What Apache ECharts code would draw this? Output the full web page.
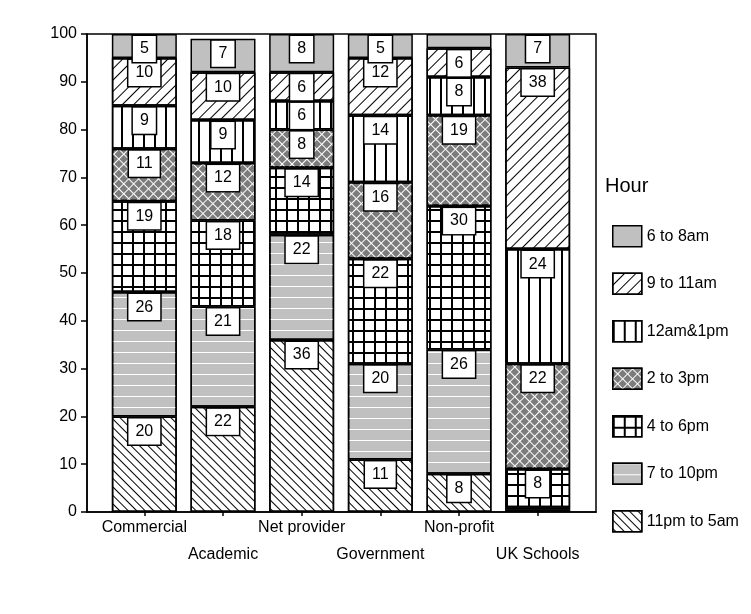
<!DOCTYPE html>
<html>
<head>
<meta charset="utf-8">
<script src="https://cdn.jsdelivr.net/npm/echarts@6/dist/echarts.min.js"></script>
<style>
  html, body { margin: 0; padding: 0; background: #fff; }
  #chart { width: 751px; height: 614px; }
</style>
</head>
<body>
<div id="chart"></div>
<script>
// Share of traffic by hour of day, per type of site (percent, stacked to 100)
const categories = ['Commercial', 'Academic', 'Net provider', 'Government', 'Non-profit', 'UK Schools'];
const hourNames = ['6 to 8am', '9 to 11am', '12am&1pm', '2 to 3pm', '4 to 6pm', '7 to 10pm', '11pm to 5am'];
const yTicks = [0, 10, 20, 30, 40, 50, 60, 70, 80, 90, 100];

const lateNight = [20, 22, 36, 11, 8, 0.5];   // 11pm to 5am
const evening   = [26, 21, 22, 20, 26, 0.5];  // 7 to 10pm
const afterWork = [19, 18, 14, 22, 30, 8];    // 4 to 6pm
const afternoon = [11, 12, 8, 16, 19, 22];    // 2 to 3pm
const lunch     = [9, 9, 6, 14, 8, 24];       // 12am&1pm
const morning   = [10, 10, 6, 12, 6, 38];     // 9 to 11am
const early     = [5, 7, 8, 5, 3, 7];         // 6 to 8am

const FONT = "'Liberation Sans', Arial, Helvetica, sans-serif";

// Fill patterns for each hour band
const patterns = {
  '6 to 8am':    { color: '#c0c0c0', decal: null },
  '9 to 11am':   { color: '#ffffff', decal: { symbol: 'rect', symbolSize: 1, color: '#000', dashArrayX: [1, 0], dashArrayY: [1, 7], rotation: -Math.PI / 4 } },
  '12am&1pm':    { color: '#ffffff', decal: { symbol: 'rect', symbolSize: 1, color: '#000', dashArrayX: [2, 9], dashArrayY: [1, 0], rotation: 0 } },
  '2 to 3pm':    { color: '#7c7c7c', decal: { symbol: 'rect', symbolSize: 1, color: '#fff', dashArrayX: [[7, 0], [1, 6]], dashArrayY: [1, 0, 6, 0], rotation: Math.PI / 4 } },
  '4 to 6pm':    { color: '#ffffff', decal: { symbol: 'rect', symbolSize: 1, color: '#000', dashArrayX: [[11, 0], [2, 9]], dashArrayY: [2, 0, 9, 0], rotation: 0 } },
  '7 to 10pm':   { color: '#c0c0c0', decal: { symbol: 'rect', symbolSize: 1, color: '#fff', dashArrayX: [1, 0], dashArrayY: [1, 10], rotation: 0 } },
  '11pm to 5am': { color: '#ffffff', decal: { symbol: 'rect', symbolSize: 1, color: '#000', dashArrayX: [1, 0], dashArrayY: [1, 5], rotation: Math.PI / 4 } }
};

// Stacking order: bottom band first
const stackOrder = [
  ['11pm to 5am', lateNight],
  ['7 to 10pm', evening],
  ['4 to 6pm', afterWork],
  ['2 to 3pm', afternoon],
  ['12am&1pm', lunch],
  ['9 to 11am', morning],
  ['6 to 8am', early]
];

const series = stackOrder.map(([name, values]) => {
  const p = patterns[name];
  const itemStyle = { color: p.color, borderColor: '#000', borderWidth: 1.5 };
  if (p.decal) itemStyle.decal = p.decal;
  return {
    name: name,
    type: 'bar',
    stack: 'hours',
    xAxisIndex: 1,
    yAxisIndex: 1,
    barWidth: 65,
    itemStyle: itemStyle,
    emphasis: { disabled: true },
    label: {
      show: true,
      position: 'insideTop',
      distance: 2,
      formatter: '{c}',
      fontFamily: FONT,
      fontSize: 16,
      lineHeight: 18,
      color: '#000',
      backgroundColor: '#fff',
      borderColor: '#000',
      borderWidth: 1.5,
      padding: [4, 7]
    },
    data: values.map(v => ({ value: v, label: { show: v >= 4 } }))
  };
});

const chart = echarts.init(document.getElementById('chart'), null, { renderer: 'canvas' });
chart.setOption({
  backgroundColor: '#fff',
  animation: false,
  title: {
    text: 'Hour',
    left: 600,
    top: 171,
    textStyle: { fontFamily: FONT, fontSize: 20, fontWeight: 'normal', color: '#000' }
  },
  legend: {
    orient: 'vertical',
    left: 607,
    top: 220,
    itemWidth: 29,
    itemHeight: 21,
    itemGap: 25,
    icon: 'rect',
    selectedMode: false,
    data: hourNames,
    itemStyle: { borderColor: '#000', borderWidth: 1.5 },
    textStyle: { fontFamily: FONT, fontSize: 16, color: '#000' }
  },
  grid: [
    // outer frame with the value scale
    { left: 87, top: 34, width: 509, height: 478, show: true, borderColor: '#000', borderWidth: 1.5, backgroundColor: 'transparent' },
    // bar area
    { left: 105, top: 34, width: 472, height: 478 }
  ],
  xAxis: [
    {
      gridIndex: 0, type: 'value', min: 0, max: 1,
      axisLine: { show: true, lineStyle: { color: '#000', width: 1.5 } },
      axisTick: { show: false }, axisLabel: { show: false }, splitLine: { show: false }
    },
    {
      gridIndex: 1, type: 'category', data: categories,
      axisLine: { show: false },
      axisTick: { show: true, alignWithLabel: true, length: 4, lineStyle: { color: '#000', width: 1.5 } },
      axisLabel: {
        interval: 0,
        margin: 2,
        fontFamily: FONT,
        fontSize: 16,
        lineHeight: 27,
        color: '#000',
        formatter: (v, i) => (i % 2 ? '\n' + v : v)
      },
      splitLine: { show: false }
    }
  ],
  yAxis: [
    {
      gridIndex: 0, type: 'value',
      min: yTicks[0], max: yTicks[yTicks.length - 1], interval: yTicks[1] - yTicks[0],
      axisLine: { show: true, lineStyle: { color: '#000', width: 1.5 } },
      axisTick: { show: true, length: 6, lineStyle: { color: '#000', width: 1.5 } },
      axisLabel: { margin: 10, fontFamily: FONT, fontSize: 16, color: '#000' },
      splitLine: { show: false }
    },
    {
      gridIndex: 1, type: 'value', min: yTicks[0], max: yTicks[yTicks.length - 1], show: false
    }
  ],
  series: series
});
</script>
</body>
</html>
